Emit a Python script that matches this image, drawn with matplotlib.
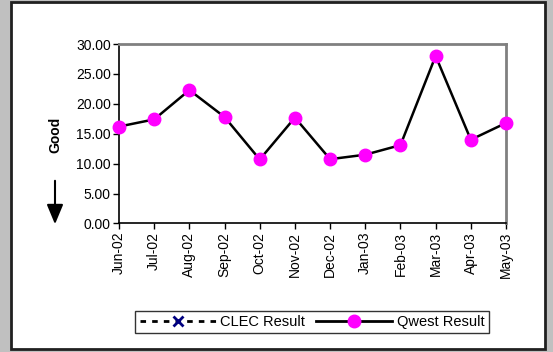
import matplotlib.pyplot as plt
from matplotlib.patches import Rectangle, FancyArrowPatch
from matplotlib.lines import Line2D

plt.rcParams['font.family'] = ['Liberation Sans', 'DejaVu Sans']

# Data
months = ['Jun-02', 'Jul-02', 'Aug-02', 'Sep-02', 'Oct-02', 'Nov-02',
          'Dec-02', 'Jan-03', 'Feb-03', 'Mar-03', 'Apr-03', 'May-03']
qwest = [16.2, 17.4, 22.3, 17.8, 10.7, 17.7, 10.75, 11.5, 13.1, 28.0, 14.0, 16.8]
clec = []  # no CLEC values on the chart
yticks = [0, 5, 10, 15, 20, 25, 30]

W, H = 553, 352
fig = plt.figure(figsize=(W / 100, H / 100), dpi=100)
fig.patch.set_facecolor('#c0c0c0')

# white inner panel with dark border
fig.patches.append(Rectangle((11 / W, 1 - 349 / H), (545 - 11) / W, (349 - 2) / H,
                             transform=fig.transFigure, facecolor='white',
                             edgecolor='#202020', linewidth=2, zorder=-5))

ax = fig.add_axes([119 / W, 1 - 223.5 / H, (506 - 119) / W, (223.5 - 44) / H])
ax.set_zorder(2)
ax.patch.set_alpha(0)
x = list(range(len(months)))
ax.plot(x, qwest, color='black', linewidth=1.8, marker='o', markersize=9,
        markerfacecolor='#ff00ff', markeredgecolor='#ff00ff', clip_on=False, zorder=3)

ax.set_xlim(0, len(months) - 1)
ax.set_ylim(0, 30)
ax.set_yticks(yticks)
ax.set_yticklabels([f'{v:.2f}' for v in yticks], fontsize=10)
ax.set_xticks(x)
ax.set_xticklabels(months, rotation=90, fontsize=10)
ax.tick_params(direction='out', length=4, width=1, pad=2)

for s in ['top', 'right']:
    ax.spines[s].set_color('#808080')
    ax.spines[s].set_linewidth(2)
for s in ['left', 'bottom']:
    ax.spines[s].set_color('black')
    ax.spines[s].set_linewidth(1.2)

# "Good" label with downward arrow
fig.text(55 / W, 1 - 135 / H, 'Good', rotation=90, fontsize=10, fontweight='bold',
         ha='center', va='center')
fig.patches.append(FancyArrowPatch(
    (55 / W, 1 - 178 / H), (55 / W, 1 - 227 / H), transform=fig.transFigure,
    arrowstyle='-|>,head_length=12,head_width=5', color='black', linewidth=1.5,
    mutation_scale=1))

handles = [
    Line2D([], [], color='black', linestyle=(0, (2, 2.2)), linewidth=2,
           marker='x', markersize=7, markeredgecolor='#000080',
           markeredgewidth=2),
    Line2D([], [], color='black', linewidth=2, marker='o', markersize=9,
           markerfacecolor='#ff00ff', markeredgecolor='#ff00ff'),
]
leg = fig.legend(handles, ['CLEC Result', 'Qwest Result'], loc='center',
                 bbox_to_anchor=(312 / W, 1 - 322 / H), ncol=2, fontsize=10.5,
                 frameon=True, fancybox=False, handlelength=5.2,
                 columnspacing=0.8, handletextpad=0.3, borderpad=0.3,
                 borderaxespad=0)
leg.get_frame().set_edgecolor('black')
leg.get_frame().set_linewidth(1)

fig.savefig('out.png', dpi=100, facecolor=fig.get_facecolor())
